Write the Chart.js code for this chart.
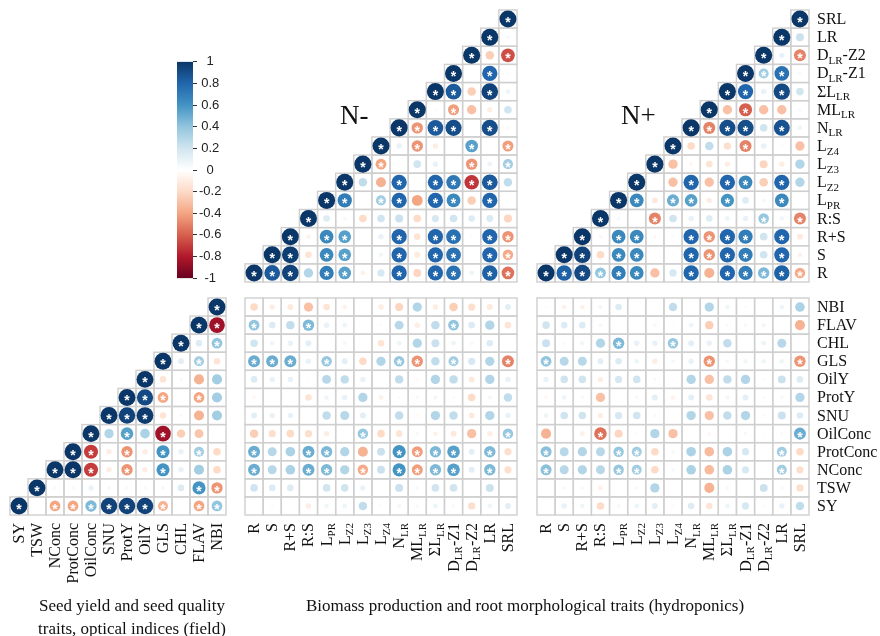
<!DOCTYPE html>
<html>
<head>
<meta charset="utf-8">
<script src="https://cdn.jsdelivr.net/npm/chart.js@4.4.0/dist/chart.umd.min.js"></script>
<style>
  body { margin: 0; background: #fff; }
  #wrap { position: relative; width: 880px; height: 636px; overflow: hidden; font-family: "Liberation Serif", serif; color: #111; }
  canvas { position: absolute; }
  .txt { position: absolute; white-space: nowrap; line-height: 1; }
  .cap { position: absolute; text-align: center; font-size: 17px; line-height: 23px; }
</style>
</head>
<body>
<div id="wrap">
  <canvas id="cbar" width="70" height="236" style="left:170px;top:52px"></canvas>
  <canvas id="topMinus" width="276" height="276" style="left:243px;top:8px"></canvas>
  <canvas id="topPlus" width="345" height="276" style="left:535px;top:8px"></canvas>
  <canvas id="field" width="222" height="300" style="left:8px;top:296px"></canvas>
  <canvas id="botMinus" width="276" height="300" style="left:243px;top:296px"></canvas>
  <canvas id="botPlus" width="345" height="300" style="left:535px;top:296px"></canvas>
  <div class="txt" style="left:340px;top:102px;font-size:27px">N-</div>
  <div class="txt" style="left:621px;top:102px;font-size:27px">N+</div>
  <div class="cap" style="left:0px;top:594px;width:264px">Seed yield and seed quality<br>traits, optical indices (field)</div>
  <div class="cap" style="left:225px;top:594px;width:600px">Biomass production and root morphological traits (hydroponics)</div>
</div>
<script>
// trait names; text in _{...} is drawn as a subscript
const rootTraits = ['R', 'S', 'R+S', 'R:S', 'L_{PR}', 'L_{Z2}', 'L_{Z3}', 'L_{Z4}', 'N_{LR}',
  'ML_{LR}', 'ΣL_{LR}', 'D_{LR}-Z1', 'D_{LR}-Z2', 'LR', 'SRL'];
const fieldTraits = ['SY', 'TSW', 'NConc', 'ProtConc', 'OilConc', 'SNU', 'ProtY', 'OilY',
  'GLS', 'CHL', 'FLAV', 'NBI'];
const cbarTicks = [-1, -0.8, -0.6, -0.4, -0.2, 0, 0.2, 0.4, 0.6, 0.8, 1];

// root traits, N-: row i holds r(trait i, trait j) for j = i..14
const rootCorrNminus = [
  [1, 0.85, 0.95, 0.3, 0.7, 0.55, -0.08, 0.18, 0.8, -0.22, 0.8, 0.75, 0.08, 0.82, -0.55],
  [1, 0.97, -0.15, 0.65, 0.55, 0.01, 0.07, 0.8, -0.12, 0.8, 0.75, 0.02, 0.8, -0.38],
  [1, -0.07, 0.65, 0.55, 0.01, 0.1, 0.8, -0.15, 0.8, 0.75, 0.03, 0.8, -0.45],
  [1, 0.15, 0.05, -0.2, 0.2, 0.22, -0.2, 0.18, 0.2, 0.15, 0.16, -0.22],
  [1, 0.7, 0.01, 0.35, 0.8, -0.4, 0.8, 0.65, -0.25, 0.8, 0.02],
  [1, 0.25, -0.35, 0.8, 0.01, 0.8, 0.72, -0.72, 0.85, 0.25],
  [1, -0.4, 0.02, 0.2, 0.1, 0.01, -0.45, 0.08, 0.35],
  [1, 0.1, -0.45, -0.1, 0.02, 0.55, 0.02, -0.42],
  [1, -0.45, 0.85, 0.9, -0.03, 0.9, -0.04],
  [1, -0.03, -0.42, -0.3, -0.1, 0.2],
  [1, 0.85, -0.25, 0.95, 0.08],
  [1, 0.02, 0.8, 0.02],
  [1, -0.25, -0.65],
  [1, 0.05],
  [1]
];
const rootSigNminus = ['***.**..*.**.**', '**.**..*.**.**', '*.**..*.**.**', '*...........',
  '**.**.**.*.', '*..*.****.', '**....*.*', '*.*..*.*', '****.*.', '*.*...', '**.*.',
  '*.*.', '*.*', '*.', '*'];

// root traits, N+
const rootCorrNplus = [
  [1, 0.82, 0.92, 0.4, 0.7, 0.65, -0.3, 0.18, 0.8, -0.35, 0.8, 0.7, 0.45, 0.82, -0.38],
  [1, 0.95, -0.2, 0.65, 0.65, 0.0, 0.02, 0.8, -0.45, 0.8, 0.7, 0.2, 0.8, -0.07],
  [1, -0.05, 0.65, 0.65, -0.05, 0.03, 0.8, -0.45, 0.8, 0.7, 0.2, 0.8, -0.12],
  [1, 0.05, -0.02, -0.5, 0.2, 0.1, 0.15, 0.08, 0.1, 0.38, 0.07, -0.5],
  [1, 0.65, -0.12, 0.5, 0.55, -0.1, 0.6, 0.15, -0.05, 0.65, 0.01],
  [1, 0.01, -0.3, 0.8, -0.3, 0.8, 0.65, -0.25, 0.8, 0.3],
  [1, -0.3, -0.05, -0.15, -0.1, 0.01, -0.22, -0.1, 0.3],
  [1, -0.2, 0.25, -0.18, -0.5, 0.1, -0.03, -0.3],
  [1, -0.5, 0.9, 0.9, 0.2, 0.88, 0.08],
  [1, -0.3, -0.6, -0.3, -0.3, 0.04],
  [1, 0.8, 0.1, 0.92, 0.2],
  [1, 0.35, 0.75, 0.05],
  [1, 0.1, -0.5],
  [1, 0.22],
  [1]
];
const rootSigNplus = ['******..*.*****', '**.**..****.*.', '*.**..****.*.', '*..*.....*.*',
  '**.**.*..*.', '*..*.**.*.', '*........', '*...*...', '****.*.', '*.*...', '**.*.',
  '***.', '*.*', '*.', '*'];

// field traits: row i holds r(trait i, trait j) for j = i..11
const fieldCorr = [
  [1, 0.01, -0.4, -0.4, 0.45, 0.95, 0.95, 0.95, -0.35, 0.0, -0.4, 0.4],
  [1, 0.04, 0.04, 0.1, 0.05, 0.04, 0.04, 0.05, 0.15, 0.6, -0.45],
  [1, 1.0, -0.7, -0.1, -0.45, -0.1, 0.6, 0.1, 0.35, -0.2],
  [1, -0.7, -0.1, -0.45, -0.1, 0.6, 0.1, 0.35, -0.2],
  [1, 0.3, 0.55, 0.32, -0.85, -0.25, -0.28, 0.0],
  [1, 0.95, 0.98, -0.15, 0.04, -0.35, 0.35],
  [1, 0.92, -0.4, -0.02, -0.4, 0.35],
  [1, -0.15, 0.04, -0.35, 0.35],
  [1, 0.12, 0.35, -0.15],
  [1, 0.15, 0.4],
  [1, -0.85],
  [1]
];
const fieldSig = ['*.*******.**', '*........**', '***.*.*...', '**.*.*.*.', '*.*.*...',
  '***....', '***.*.', '*....', '*.*.', '*.*', '**', '*'];

// field trait (rows, SY..NBI) vs root trait (columns), N-
const crossNminus = [
  [0.01, 0.03, 0.02, -0.1, 0.07, 0.08, 0.25, -0.03, 0.06, 0.04, 0.08, 0.04, -0.18, 0.08, 0.12],
  [0.2, 0.15, 0.15, 0.02, 0.2, 0.2, 0.1, 0.01, 0.22, -0.05, 0.2, 0.2, 0.0, 0.22, 0.01],
  [0.5, 0.28, 0.32, 0.5, 0.45, 0.3, -0.38, 0.22, 0.6, -0.42, 0.45, 0.55, 0.12, 0.45, -0.18],
  [0.5, 0.28, 0.32, 0.5, 0.45, 0.3, -0.35, 0.22, 0.6, -0.42, 0.45, 0.55, 0.12, 0.45, -0.18],
  [-0.25, -0.18, -0.2, -0.18, -0.1, -0.02, 0.38, -0.2, -0.15, 0.05, -0.07, -0.12, -0.3, -0.1, 0.38],
  [0.12, 0.1, 0.1, 0.01, 0.25, 0.28, 0.12, 0.02, 0.25, -0.03, 0.3, 0.25, -0.12, 0.3, 0.1],
  [-0.05, 0.01, 0.0, -0.15, 0.07, 0.1, 0.3, -0.08, 0.03, 0.05, 0.06, 0.03, -0.2, 0.06, 0.25],
  [0.15, 0.1, 0.1, 0.02, 0.28, 0.25, 0.1, 0.02, 0.25, -0.04, 0.3, 0.25, -0.12, 0.3, 0.1],
  [0.5, 0.5, 0.5, 0.1, 0.38, 0.12, -0.2, 0.3, 0.38, -0.45, 0.25, 0.35, 0.18, 0.3, -0.5],
  [0.2, 0.07, 0.1, 0.12, 0.01, 0.05, 0.0, -0.15, 0.08, 0.3, 0.22, 0.08, -0.05, 0.15, -0.01],
  [0.4, 0.15, 0.25, 0.45, 0.1, 0.08, 0.01, 0.03, 0.28, -0.1, 0.25, 0.4, 0.15, 0.3, -0.15],
  [-0.2, -0.1, -0.12, -0.3, -0.15, -0.08, 0.0, -0.1, -0.22, 0.3, -0.1, -0.25, -0.18, -0.12, 0.12]
];
const crossSigNminus = ['...............', '...............', '*..**.*.****.*.', '*..**...****.*.',
  '......*.......*', '...............', '...............', '...............', '***.*...**.*..*',
  '...............', '*..*.......*...', '...............'];

// field trait vs root trait, N+
const crossNplus = [
  [0.01, 0.1, 0.07, -0.2, 0.05, 0.08, 0.12, -0.03, 0.15, -0.15, 0.08, 0.18, 0.03, 0.1, 0.25],
  [0.01, 0.05, 0.05, -0.08, 0.01, -0.05, 0.3, 0.01, 0.02, -0.35, -0.05, 0.02, 0.22, -0.04, -0.18],
  [0.42, 0.28, 0.3, 0.28, 0.38, 0.35, -0.2, 0.05, 0.32, -0.32, 0.32, 0.18, 0.01, 0.35, -0.18],
  [0.42, 0.28, 0.3, 0.28, 0.38, 0.35, -0.2, 0.05, 0.32, -0.32, 0.32, 0.18, 0.01, 0.35, -0.2],
  [-0.35, 0.01, -0.08, -0.55, -0.22, -0.03, 0.3, -0.3, 0.01, -0.05, 0.01, 0.05, 0.02, -0.04, 0.5],
  [0.08, 0.2, 0.2, -0.1, 0.18, 0.2, 0.04, 0.01, 0.3, -0.3, 0.25, 0.3, 0.03, 0.22, 0.15],
  [-0.05, 0.08, 0.05, -0.3, 0.01, 0.05, 0.12, -0.07, 0.12, -0.15, 0.06, 0.12, 0.03, 0.05, 0.3],
  [0.1, 0.2, 0.2, -0.1, 0.18, 0.2, 0.04, 0.01, 0.3, -0.3, 0.25, 0.3, 0.03, 0.22, 0.15],
  [0.4, 0.28, 0.28, 0.12, 0.15, 0.08, -0.1, 0.05, 0.1, -0.45, 0.05, 0.07, 0.07, 0.07, -0.45],
  [0.22, 0.04, 0.07, 0.3, 0.45, 0.1, 0.1, 0.38, 0.12, 0.1, 0.25, 0.01, 0.08, 0.28, 0.02],
  [0.2, 0.15, 0.15, 0.05, 0.02, 0.02, 0.05, -0.02, 0.08, -0.25, 0.04, 0.05, 0.06, 0.02, -0.35],
  [-0.03, -0.08, -0.08, 0.06, 0.15, 0.01, 0.0, 0.25, 0.0, 0.3, 0.07, -0.03, 0.0, 0.08, 0.32]
];
const crossSigNplus = ['...............', '...............', '*...**.......*.', '*...**.......*.',
  '...*..........*', '...............', '...............', '...............', '*........*....*',
  '....*..*.......', '...............', '...............'];

// RdBu palette as in corrplot, from -1 to 1
const RDBU = ['#67001F', '#B2182B', '#D6604D', '#F4A582', '#FDDBC7', '#FFFFFF',
  '#D1E5F0', '#92C5DE', '#4393C3', '#2166AC', '#0B3668'];
const GRID_COLOR = '#cfcfcf';
const LABEL_FONT = '16px "Liberation Serif"';
const SUB_FONT = '11px "Liberation Serif"';

function hexRgb(h) {
  const n = parseInt(h.slice(1), 16);
  return [(n >> 16) & 255, (n >> 8) & 255, n & 255];
}

function corrColor(v) {
  const t = (Math.max(-1, Math.min(1, v)) + 1) / 2 * (RDBU.length - 1);
  const i = Math.min(Math.floor(t), RDBU.length - 2);
  const f = t - i;
  const a = hexRgb(RDBU[i]), b = hexRgb(RDBU[i + 1]);
  const c = a.map((x, k) => Math.round(x + (b[k] - x) * f));
  return `rgb(${c[0]}, ${c[1]}, ${c[2]})`;
}

function richParts(label) {
  const parts = [];
  const re = /_\{([^}]*)\}/g;
  let last = 0, m;
  while ((m = re.exec(label))) {
    if (m.index > last) parts.push({ t: label.slice(last, m.index), sub: false });
    parts.push({ t: m[1], sub: true });
    last = re.lastIndex;
  }
  if (last < label.length) parts.push({ t: label.slice(last), sub: false });
  return parts;
}

function richWidth(ctx, parts) {
  let w = 0;
  parts.forEach(p => {
    ctx.font = p.sub ? SUB_FONT : LABEL_FONT;
    w += ctx.measureText(p.t).width;
  });
  return w;
}

// draws a label from x along the baseline y
function drawRich(ctx, parts, x, y) {
  parts.forEach(p => {
    ctx.font = p.sub ? SUB_FONT : LABEL_FONT;
    ctx.fillText(p.t, x, p.sub ? y + 3.5 : y);
    x += ctx.measureText(p.t).width;
  });
}

const corrPlugin = {
  id: 'corrGrid',
  beforeDatasetsDraw(chart) {
    const { ctx } = chart;
    const xs = chart.scales.x, ys = chart.scales.y;
    const cw = Math.abs(xs.getPixelForValue(1) - xs.getPixelForValue(0));
    const ch = Math.abs(ys.getPixelForValue(1) - ys.getPixelForValue(0));
    ctx.save();
    ctx.strokeStyle = GRID_COLOR;
    ctx.lineWidth = 1.4;
    chart.data.datasets[0].data.forEach(d => {
      const px = xs.getPixelForValue(d.x), py = ys.getPixelForValue(d.y);
      ctx.strokeRect(px - cw / 2, py - ch / 2, cw, ch);
    });
    ctx.restore();
  },
  afterDatasetsDraw(chart, args, opts) {
    const { ctx, chartArea } = chart;
    const xs = chart.scales.x, ys = chart.scales.y;
    const meta = chart.getDatasetMeta(0);
    const data = chart.data.datasets[0].data;
    ctx.save();
    ctx.fillStyle = '#ffffff';
    ctx.font = 'bold 14px "Liberation Sans"';
    ctx.textAlign = 'center';
    ctx.textBaseline = 'alphabetic';
    meta.data.forEach((el, i) => {
      if (data[i].sig) ctx.fillText('*', el.x, el.y + 8);
    });

    ctx.fillStyle = '#111';
    ctx.textAlign = 'left';
    if (opts.rowLabels) {
      opts.rowLabels.forEach((lab, i) => {
        drawRich(ctx, richParts(lab), chartArea.right + 8, ys.getPixelForValue(i) + 5);
      });
    }
    if (opts.colLabels) {
      opts.colLabels.forEach((lab, j) => {
        const parts = richParts(lab);
        const w = richWidth(ctx, parts);
        ctx.save();
        ctx.translate(xs.getPixelForValue(j), chartArea.bottom + 8);
        ctx.rotate(-Math.PI / 2);
        drawRich(ctx, parts, -w, 5);
        ctx.restore();
      });
    }
    ctx.restore();
  }
};

function trianglePoints(rows, sigRows) {
  const pts = [];
  rows.forEach((row, i) => row.forEach((v, k) => {
    pts.push({ x: i + k, y: i, v, sig: sigRows[i][k] === '*' });
  }));
  return pts;
}

function gridPoints(rows, sigRows) {
  const pts = [];
  rows.forEach((row, i) => row.forEach((v, j) => {
    pts.push({ x: j, y: i, v, sig: sigRows[i][j] === '*' });
  }));
  return pts;
}

function corrChart(id, points, nCols, nRows, padding, labels) {
  const canvas = document.getElementById(id);
  // circle radius grows with sqrt(|r|), as corrplot does
  const cell = Math.min((canvas.width - padding.left - padding.right) / nCols,
    (canvas.height - padding.top - padding.bottom) / nRows);
  points.forEach(p => { p.r = 0.47 * cell * Math.sqrt(Math.abs(p.v)); });
  return new Chart(canvas, {
    type: 'bubble',
    data: {
      datasets: [{
        data: points,
        backgroundColor: points.map(p => corrColor(p.v)),
        borderWidth: 0,
        clip: false
      }]
    },
    options: {
      responsive: false,
      animation: false,
      devicePixelRatio: 1,
      events: [],
      layout: { padding, autoPadding: false },
      plugins: {
        legend: { display: false },
        tooltip: { enabled: false },
        corrGrid: labels
      },
      scales: {
        x: { type: 'linear', display: false, min: -0.5, max: nCols - 0.5 },
        y: { type: 'linear', display: false, min: -0.5, max: nRows - 0.5 }
      }
    },
    plugins: [corrPlugin]
  });
}

corrChart('topMinus', trianglePoints(rootCorrNminus, rootSigNminus), 15, 15,
  { left: 2, right: 2, top: 2, bottom: 2 }, {});
corrChart('topPlus', trianglePoints(rootCorrNplus, rootSigNplus), 15, 15,
  { left: 2, right: 71, top: 2, bottom: 2 }, { rowLabels: rootTraits });
corrChart('field', trianglePoints(fieldCorr, fieldSig), 12, 12,
  { left: 2, right: 4, top: 2, bottom: 81 }, { colLabels: fieldTraits });
corrChart('botMinus', gridPoints(crossNminus, crossSigNminus), 15, 12,
  { left: 2, right: 2, top: 2, bottom: 81 }, { colLabels: rootTraits });
corrChart('botPlus', gridPoints(crossNplus, crossSigNplus), 15, 12,
  { left: 2, right: 71, top: 2, bottom: 81 }, { colLabels: rootTraits, rowLabels: fieldTraits });

// colour key
function barGradient(chart) {
  const a = chart.chartArea;
  if (!a) return RDBU[5];
  const g = chart.ctx.createLinearGradient(0, a.bottom, 0, a.top);
  RDBU.forEach((c, i) => g.addColorStop(i / (RDBU.length - 1), c));
  return g;
}

new Chart(document.getElementById('cbar'), {
  type: 'bar',
  data: {
    labels: [''],
    datasets: [{
      data: [[cbarTicks[0], cbarTicks[cbarTicks.length - 1]]],
      backgroundColor: ctx => barGradient(ctx.chart),
      borderWidth: 0,
      barPercentage: 1,
      categoryPercentage: 1
    }]
  },
  options: {
    responsive: false,
    animation: false,
    devicePixelRatio: 1,
    events: [],
    layout: { padding: { left: 7, top: 8, bottom: 8, right: 0 } },
    plugins: { legend: { display: false }, tooltip: { enabled: false } },
    scales: {
      x: { display: false },
      y: {
        position: 'right',
        min: -1,
        max: 1,
        afterBuildTicks: s => { s.ticks = cbarTicks.map(v => ({ value: v })); },
        afterFit: s => { s.width = 47; },
        ticks: {
          crossAlign: 'center',
          padding: 2,
          color: '#222',
          font: { family: '"Liberation Sans"', size: 13 },
          callback: v => String(Math.round(v * 10) / 10)
        },
        grid: { drawOnChartArea: false, drawTicks: true, tickLength: 4, color: '#333' },
        border: { display: false }
      }
    }
  }
});
</script>
</body>
</html>
